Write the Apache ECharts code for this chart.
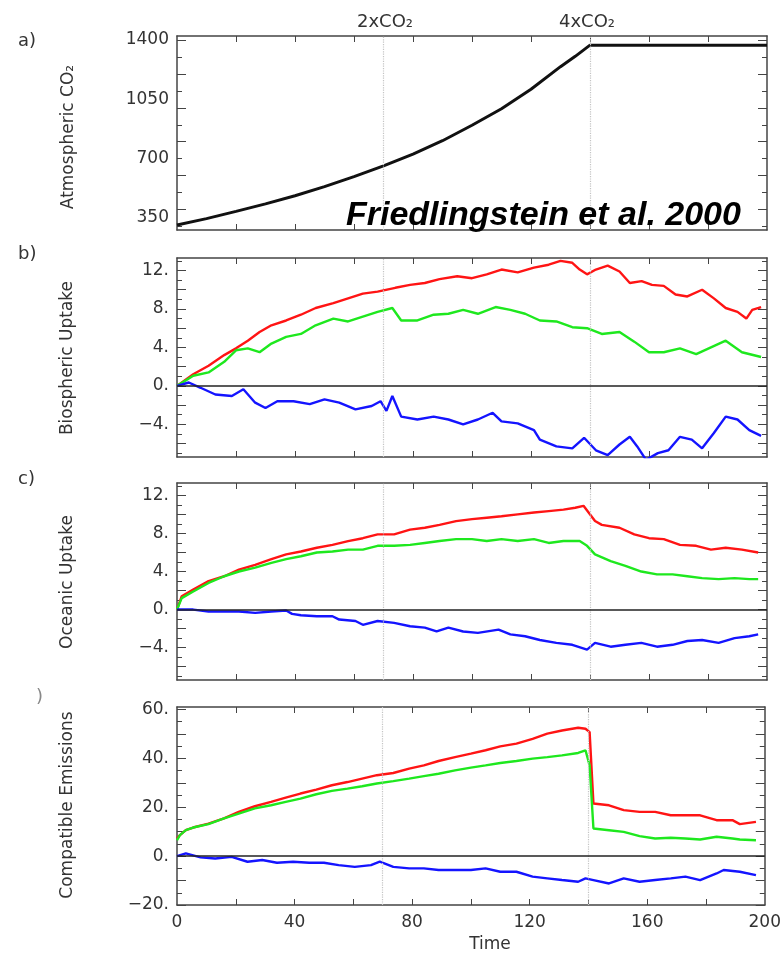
<!DOCTYPE html>
<html><head><meta charset="utf-8">
<script src="https://cdn.jsdelivr.net/npm/echarts@6/dist/echarts.min.js"></script>
<style>html,body{margin:0;padding:0;background:#fff}#c{width:784px;height:955px}</style>
</head><body><div id="c"></div>
<script>
// ---------- DATA ----------
// a) Atmospheric CO2
const co2T = [0,10,20,30,40,50,60,70,80,90,100,110,120,130,135,140,200];
const co2V = [308,346,389,433,481,535,594,657,727,806,897,995,1110,1243,1304,1370,1370];
const co2Labels = [350,700,1050,1400];

// b) Biospheric uptake
const bioRedT = [0,5.5,10.7,16,20,24,28,32,37,42,47,53,58,63,68,74,79,84,89,95,100,105,110,115.5,121,126,130,134,136.5,139,142,146,150,153.5,157.5,161,165,169,173,178,182,186,190,193,195,198];
const bioRedV = [0,1.2,2.1,3.2,3.9,4.7,5.6,6.3,6.8,7.4,8.1,8.6,9.1,9.6,9.8,10.2,10.5,10.7,11.1,11.4,11.2,11.6,12.1,11.8,12.3,12.6,13.0,12.8,12.1,11.6,12.1,12.5,11.9,10.7,10.9,10.5,10.4,9.5,9.3,10.0,9.1,8.1,7.7,7.0,7.9,8.2];
const bioGreenT = [0,5.5,10.7,16,20,24,28,32,37,42,47,53,58,63,68,73,76,81.5,87,92,97,102,108,113,118,123,128.6,134,139,144,150,155,160,165,170.5,176,181,186,191.5,198];
const bioGreenV = [0,1.05,1.4,2.5,3.7,3.9,3.5,4.4,5.1,5.4,6.3,7.0,6.7,7.2,7.7,8.1,6.8,6.8,7.4,7.5,7.9,7.5,8.2,7.9,7.5,6.8,6.7,6.1,6.0,5.4,5.6,4.6,3.5,3.5,3.9,3.3,4.0,4.7,3.5,3.0];
const bioBlueT = [0,4,8,13,18.6,22.5,26.5,30,34,39.5,45,50,55,60.5,66,69,71,73,76,81.5,87,92,97,102,107,110,115.5,121,123,128.6,134,138,142,146,150,153.5,156,159,163,166.6,170.5,174.5,178,182,186,190,194,198];
const bioBlueV = [0,0.35,-0.2,-0.9,-1.05,-0.35,-1.75,-2.3,-1.6,-1.6,-1.9,-1.4,-1.75,-2.45,-2.1,-1.6,-2.6,-1.05,-3.2,-3.5,-3.2,-3.5,-4.0,-3.5,-2.8,-3.7,-3.9,-4.6,-5.6,-6.3,-6.5,-5.4,-6.7,-7.2,-6.1,-5.3,-6.3,-7.7,-7.0,-6.7,-5.3,-5.6,-6.5,-4.9,-3.2,-3.5,-4.6,-5.2];

// c) Oceanic uptake
const oceRedT = [0,1.6,5.5,10.7,16,21,26.5,32,37,42,47.4,52.7,58,63,68,73.6,79,84,89,94.6,100,105,110,115.5,121,126,131,135,137.8,141.7,144,150,155,160,165,170.5,176,181,186,191.5,197];
const oceRedV = [0,1.4,2.1,3.0,3.5,4.2,4.7,5.3,5.8,6.1,6.5,6.8,7.2,7.5,7.9,7.9,8.4,8.6,8.9,9.3,9.5,9.65,9.8,10.0,10.2,10.35,10.5,10.7,10.9,9.3,8.9,8.6,7.9,7.5,7.4,6.8,6.7,6.3,6.5,6.3,6.0];
const oceGreenT = [0,1.6,5.5,10.7,16,21,26.5,32,37,42,47.4,52.7,58,63,68,73.6,79,84,89,94.6,100,105,110,115.5,121,126,131,136.5,139,141.7,147,152,157.4,162.7,168,173,178,183.6,189,194,197];
const oceGreenV = [0,1.2,1.9,2.8,3.5,4.0,4.4,4.9,5.3,5.6,6.0,6.1,6.3,6.3,6.7,6.7,6.8,7.0,7.2,7.4,7.4,7.2,7.4,7.2,7.4,7.0,7.2,7.2,6.7,5.8,5.1,4.6,4.0,3.7,3.7,3.5,3.3,3.2,3.3,3.2,3.2];
const oceBlueT = [0,5.5,10.7,16,21,26.5,32,37,39,42,47.4,52.7,55,60.5,63,68,73.6,79,84,88,92,97,102,109,113,118,123,128.6,134,139,141.7,147,152,157.4,162.7,168,173,178,183.6,189,194,197];
const oceBlueV = [0,0,-0.2,-0.2,-0.2,-0.35,-0.2,-0.1,-0.45,-0.6,-0.7,-0.7,-1.05,-1.2,-1.6,-1.2,-1.4,-1.75,-1.9,-2.3,-1.9,-2.3,-2.45,-2.1,-2.6,-2.8,-3.2,-3.5,-3.7,-4.2,-3.5,-3.9,-3.7,-3.5,-3.9,-3.7,-3.3,-3.2,-3.5,-3.0,-2.8,-2.6];

// d) Compatible emissions
const emiT = [0,1,3,5.5,10.7,16,21,26.5,32,37,42,47.4,52.7,58,63,68,73.6,79,84,89,94.6,100,105,110,115.5,121,126,131,136.5,139,140.4,141.7,147,152,157.4,162.7,168,173,178,183.6,189,191.5,197];
const emiRedV = [7.2,8.6,10.6,11.7,13.3,15.4,18.1,20.4,22.2,23.9,25.6,27.2,29.0,30.3,31.7,33.1,34.0,35.8,37.1,38.9,40.5,41.9,43.3,44.9,46.0,48.0,50.1,51.4,52.5,52.1,50.7,21.5,20.8,18.8,18.1,18.1,16.7,16.7,16.7,14.7,14.7,13.1,14.0];
const emiGreenV = [6.5,8.6,10.6,11.7,13.1,15.4,17.4,19.5,20.8,22.2,23.5,25.3,26.7,27.6,28.6,29.7,30.7,31.7,32.7,33.7,35.1,36.2,37.1,38.1,38.9,39.9,40.5,41.2,42.2,43.3,37.1,11.3,10.6,9.9,8.2,7.2,7.5,7.2,6.8,7.9,7.2,6.8,6.5];
const emiBlueT = [0,3,8,13,18.6,24,29,34,39.5,45,50,55,60.5,66,69,73.6,79,84,89,94.6,100,105,110,115.5,121,126,131,136.5,139,141.7,147,152,157.4,162.7,168,173,178,183.6,186,191.5,197];
const emiBlueV = [0,1.1,-0.5,-1.0,-0.3,-2.3,-1.6,-2.7,-2.3,-2.7,-2.7,-3.7,-4.4,-3.7,-2.3,-4.4,-5.0,-5.0,-5.7,-5.7,-5.7,-5.0,-6.4,-6.4,-8.4,-9.1,-9.8,-10.5,-9.1,-9.8,-11.2,-9.1,-10.5,-9.8,-9.1,-8.4,-9.8,-7.1,-5.7,-6.4,-7.8];

const uptakeLabels = [-4,0,4,8,12];
const emiLabels = [-20,0,20,40,60];
const timeLabels = [0,40,80,120,160,200];
const timeTicks = [20,40,60,80,100,120,140,160,180];
const markYears = [70,140];

// ---------- CHART ----------
const FONT = 'DejaVu Sans';
const TXT = '#333';
const AX = '#444';
const RED = '#ff1414', GREEN = '#1ee81e', BLUE = '#1414ff';
const zip = (t, v) => t.map((x, i) => [x, v[i]]);
const range = (a, b, s) => { const r = []; for (let x = a; x <= b + 1e-9; x += s) r.push(x); return r; };
const fmtDot = v => (v < 0 ? '\u2212' + Math.abs(v) : String(v)) + '.';

const panels = [
  { top: 36, height: 194, min: 279, max: 1424, labels: co2Labels, fmt: v => String(v),
    major: range(400, 1400, 200), minor: range(300, 1300, 200), zero: false,
    lines: [{ d: zip(co2T, co2V), c: '#111', w: 3 }] },
  { top: 258, height: 199, min: -7.4, max: 13.3, labels: uptakeLabels, fmt: fmtDot,
    major: range(-6, 12, 2), minor: range(-7, 13, 2), zero: true,
    lines: [{ d: zip(bioRedT, bioRedV), c: RED, w: 2.4 }, { d: zip(bioGreenT, bioGreenV), c: GREEN, w: 2.4 }, { d: zip(bioBlueT, bioBlueV), c: BLUE, w: 2.4 }] },
  { top: 483, height: 197, min: -7.4, max: 13.3, labels: uptakeLabels, fmt: fmtDot,
    major: range(-6, 12, 2), minor: range(-7, 13, 2), zero: true,
    lines: [{ d: zip(oceRedT, oceRedV), c: RED, w: 2.4 }, { d: zip(oceGreenT, oceGreenV), c: GREEN, w: 2.4 }, { d: zip(oceBlueT, oceBlueV), c: BLUE, w: 2.4 }] },
  { top: 707, height: 198, min: -20, max: 61, labels: emiLabels, fmt: fmtDot,
    major: range(-20, 60, 10), minor: range(-15, 55, 10), zero: true,
    lines: [{ d: zip(emiT, emiRedV), c: RED, w: 2.4 }, { d: zip(emiT, emiGreenV), c: GREEN, w: 2.4 }, { d: zip(emiBlueT, emiBlueV), c: BLUE, w: 2.4 }] }
];

const grid = [], xAxis = [], yAxis = [], series = [];
panels.forEach((p, i) => {
  const last = i === panels.length - 1;
  grid.push({ left: 177, width: 590, top: p.top, height: p.height, containLabel: false });
  ['bottom', 'top'].forEach(pos => {
    xAxis.push({
      type: 'value', gridIndex: i, min: 0, max: 200, position: pos,
      axisLine: { show: true, onZero: false, lineStyle: { color: AX, width: 1.5 } },
      axisTick: { show: true, inside: true, length: 6, customValues: timeTicks, lineStyle: { color: AX, width: 1 } },
      axisLabel: { show: last && pos === 'bottom', customValues: timeLabels, margin: 9,
        fontFamily: FONT, fontSize: 17, color: TXT, formatter: v => String(v) },
      splitLine: { show: false }
    });
  });
  ['left', 'right'].forEach(pos => {
    yAxis.push({
      type: 'value', gridIndex: i, min: p.min, max: p.max, position: pos,
      axisLine: { show: true, onZero: false, lineStyle: { color: AX, width: 1.5 } },
      axisTick: { show: true, inside: true, length: 9, customValues: p.major, lineStyle: { color: AX, width: 1 } },
      axisLabel: { show: pos === 'left', customValues: p.labels, margin: 8,
        fontFamily: FONT, fontSize: 17, color: TXT, formatter: p.fmt },
      splitLine: { show: false }
    });
    yAxis.push({
      type: 'value', gridIndex: i, min: p.min, max: p.max, position: pos,
      axisLine: { show: false, onZero: false },
      axisTick: { show: true, inside: true, length: 5, customValues: p.minor, lineStyle: { color: AX, width: 1 } },
      axisLabel: { show: false },
      splitLine: { show: false }
    });
  });
  const mlData = markYears.map(y => ({ xAxis: y, lineStyle: { color: '#c4c4c4', type: 'dotted', width: 1.2 } }));
  if (p.zero) mlData.push({ yAxis: 0, lineStyle: { color: '#222', type: 'solid', width: 1.6 } });
  series.push({
    type: 'line', xAxisIndex: 2 * i, yAxisIndex: 4 * i, data: [], silent: true,
    markLine: { symbol: 'none', silent: true, animation: false, label: { show: false }, data: mlData }
  });
  p.lines.forEach(l => {
    series.push({
      type: 'line', xAxisIndex: 2 * i, yAxisIndex: 4 * i, data: l.d, showSymbol: false,
      lineStyle: { color: l.c, width: l.w }, itemStyle: { color: l.c }, silent: true, z: 3
    });
  });
});

const txt = (x, y, text, opt = {}) => ({
  type: 'text', x, y, rotation: opt.rot || 0, z: 10,
  style: {
    text, align: opt.align || 'center', verticalAlign: 'middle',
    font: opt.font || ('17px "' + FONT + '"'), fill: opt.fill || TXT
  }
});
const graphic = [
  txt(385, 22, '2xCO\u2082', { font: '18px "DejaVu Sans"' }),
  txt(587, 22, '4xCO\u2082', { font: '18px "DejaVu Sans"' }),
  txt(18, 41, 'a)', { align: 'left', font: '18px "DejaVu Sans"' }),
  txt(18, 254, 'b)', { align: 'left', font: '18px "DejaVu Sans"' }),
  txt(18, 479, 'c)', { align: 'left', font: '18px "DejaVu Sans"' }),
  txt(36, 697, ')', { align: 'left', font: '18px "DejaVu Sans"', fill: '#888' }),
  txt(69, 137, 'Atmospheric CO\u2082', { rot: Math.PI / 2 }),
  txt(68, 358, 'Biospheric Uptake', { rot: Math.PI / 2 }),
  txt(68, 582, 'Oceanic Uptake', { rot: Math.PI / 2 }),
  txt(68, 805, 'Compatible Emissions', { rot: Math.PI / 2 }),
  txt(490, 945, 'Time', { font: '17px "DejaVu Sans"' }),
  txt(346, 216, 'Friedlingstein et al. 2000', { align: 'left', font: 'italic bold 34px "Liberation Sans", Arial, sans-serif', fill: '#000' })
];

const chart = echarts.init(document.getElementById('c'));
chart.setOption({ animation: false, backgroundColor: '#fff', grid, xAxis, yAxis, series, graphic });
</script></body></html>
